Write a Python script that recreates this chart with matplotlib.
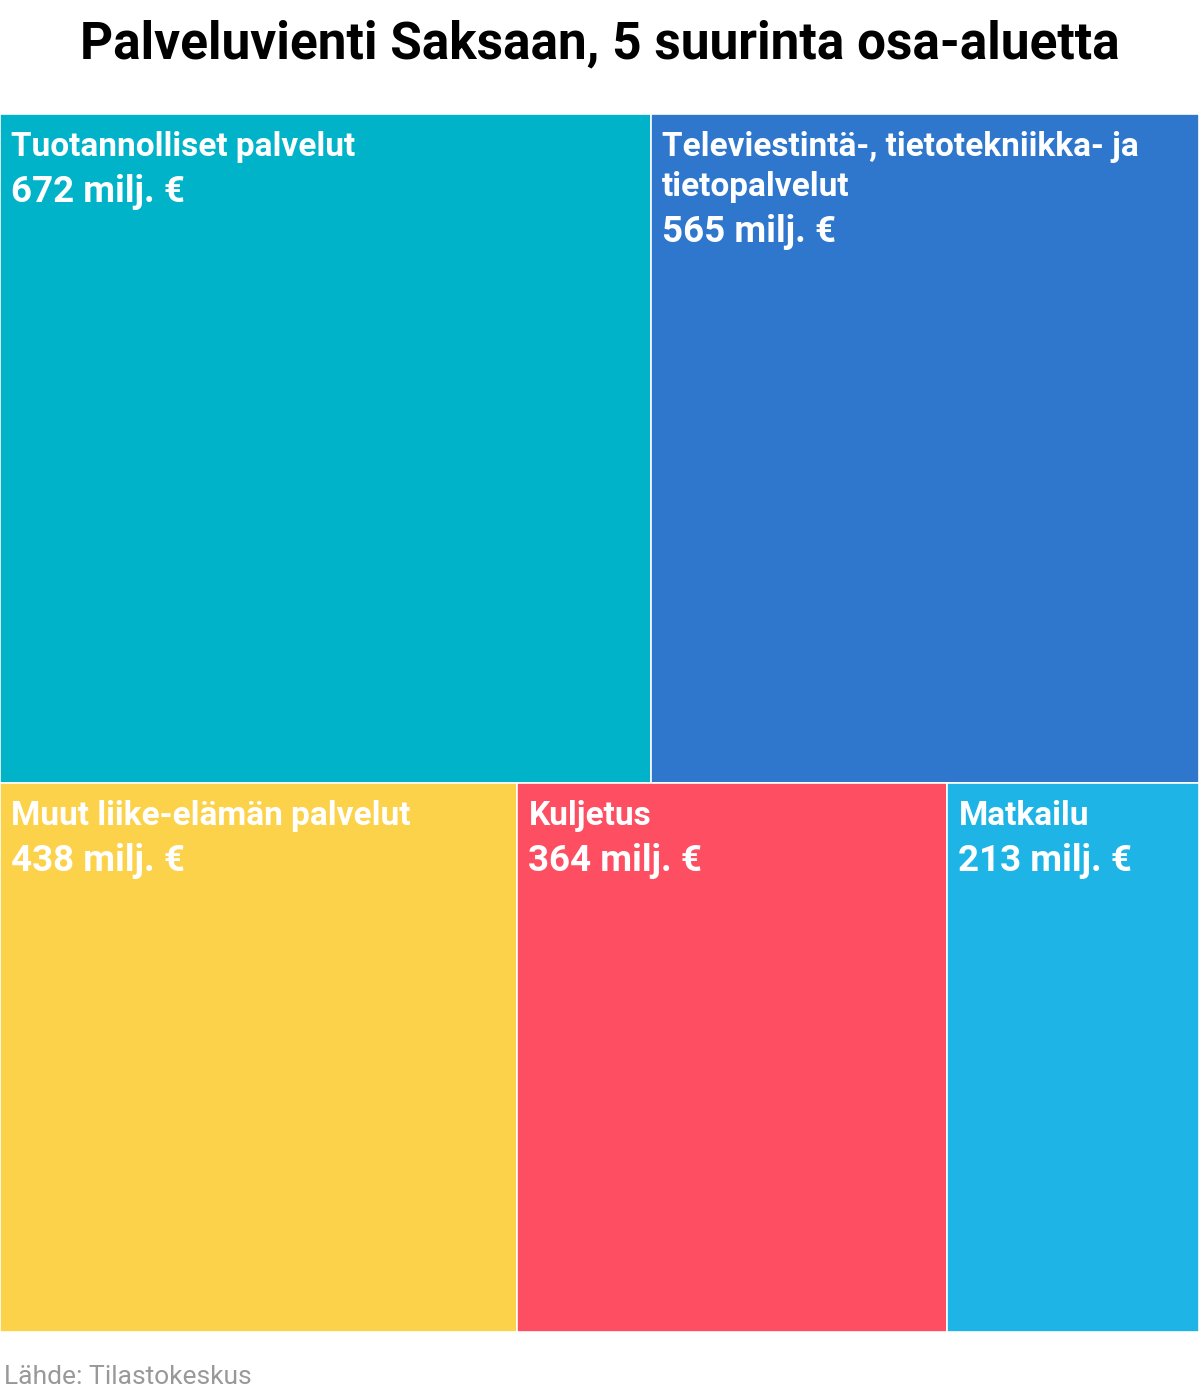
import textwrap
import matplotlib
matplotlib.use("Agg")
import matplotlib.pyplot as plt
from matplotlib.patches import Rectangle

labels = ["Tuotannolliset palvelut",
          "Televiestintä-, tietotekniikka- ja tietopalvelut",
          "Muut liike-elämän palvelut",
          "Kuljetus",
          "Matkailu"]
values = [672, 565, 438, 364, 213]
colors = ["#00B3C8", "#2F77CC", "#FDD24B", "#FE4F62", "#1FB4E6"]
rows = [[0, 1], [2, 3, 4]]  # which items go to which row

W, H = 1199, 1395
fig = plt.figure(figsize=(W / 100, H / 100), dpi=100)
plt.rcParams['font.family'] = ['Roboto', 'DejaVu Sans']

top_px, bot_px = 114, 1332
ax = fig.add_axes([0, 1 - bot_px / H, 1, (bot_px - top_px) / H])
area_w, area_h = W, bot_px - top_px
ax.set_xlim(0, area_w)
ax.set_ylim(area_h, 0)
ax.axis("off")

total = sum(values)
y = 0
for row in rows:
    row_sum = sum(values[i] for i in row)
    rh = area_h * row_sum / total
    x = 0
    for i in row:
        rw = area_w * values[i] / row_sum
        ax.add_patch(Rectangle((x, y), rw, rh, facecolor=colors[i],
                               edgecolor="white", linewidth=1.2))
        lines = textwrap.wrap(labels[i], width=34)
        by = y + 42
        for k, ln in enumerate(lines):
            ax.text(x + 11, by + k * 40, ln, color="white", fontsize=24,
                    fontweight="bold", va="baseline", ha="left")
        ax.text(x + 11, by + (len(lines) - 1) * 40 + 46,
                f"{values[i]} milj. €", color="white", fontsize=26.5,
                fontweight="bold", va="baseline", ha="left")
        x += rw
    y += rh

fig.text(0.5, 1 - 58 / H, "Palveluvienti Saksaan, 5 suurinta osa-aluetta",
         ha="center", va="baseline", fontsize=37, fontweight="bold",
         color="black")
fig.text(4 / W, 1 - 1384 / H, "Lähde: Tilastokeskus", ha="left",
         va="baseline", fontsize=19, color="#999999")

fig.savefig("out.png", dpi=100)
